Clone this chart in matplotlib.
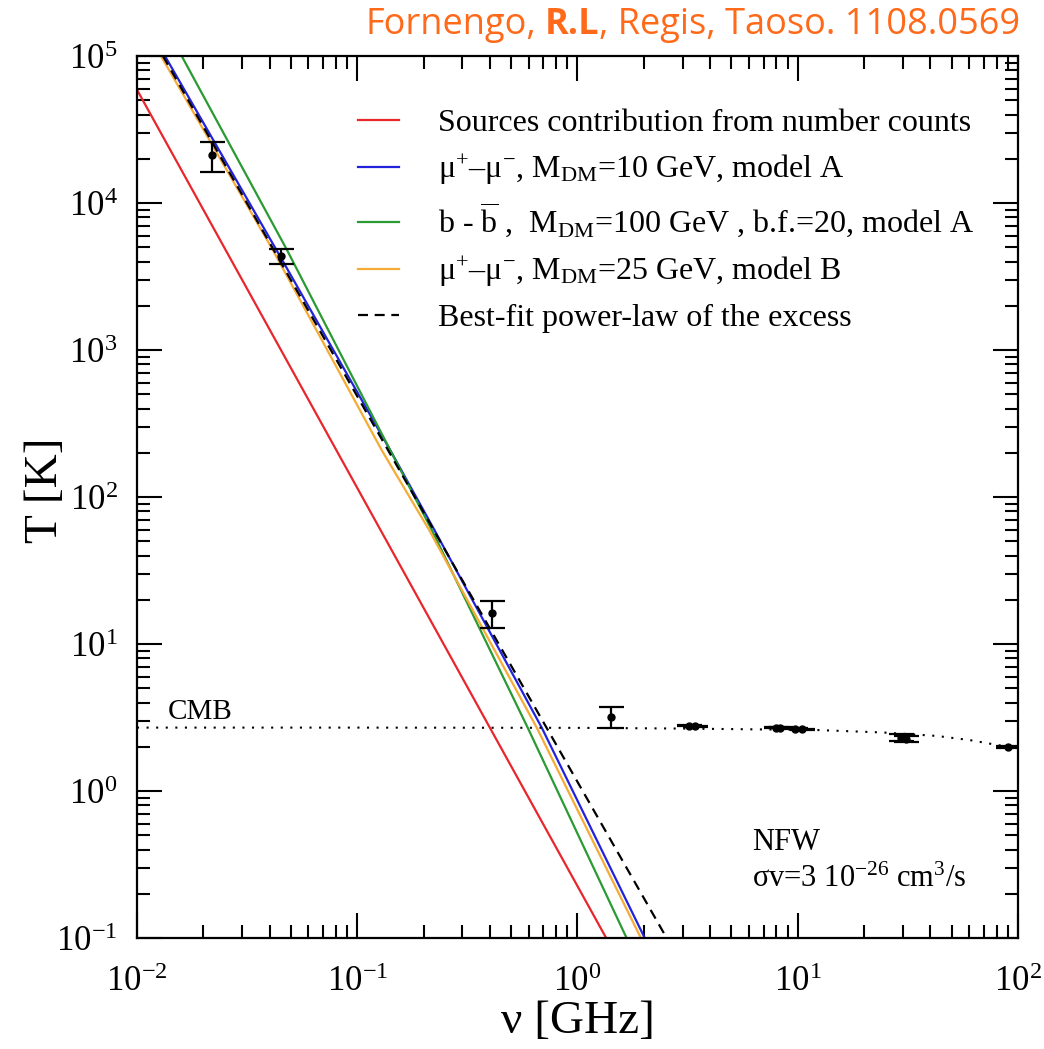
import numpy as np
import matplotlib
matplotlib.use("Agg")
import matplotlib.pyplot as plt
from matplotlib.ticker import LogLocator, LogFormatterMathtext, NullFormatter

plt.rcParams["font.family"] = ["Liberation Serif", "DejaVu Serif"]
plt.rcParams["mathtext.fontset"] = "custom"
plt.rcParams["mathtext.rm"] = "Liberation Serif"
plt.rcParams["mathtext.it"] = "Liberation Serif:italic"
plt.rcParams["mathtext.bf"] = "Liberation Serif:bold"

# ---- model curves: frequency [GHz] and brightness temperature [K] ----
src_nu = [0.01, 1.35]
src_T = [5.9e4, 0.1]

mumu10_nu = [0.0134, 0.0446, 0.141, 0.224, 0.688, 2.02]
mumu10_T = [1e5, 4350, 209, 59.7, 2.70, 0.1]

bb100_nu = [0.01596, 0.0480, 0.141, 0.218, 0.594, 1.671]
bb100_T = [1e5, 4786, 209, 59.7, 2.70, 0.1]

mumu25_nu = [0.01285, 0.0414, 0.129, 0.212, 0.653, 1.94]
mumu25_T = [1e5, 4786, 209, 59.7, 2.70, 0.1]

fit_nu = [0.01312, 2.54]
fit_T = [1e5, 0.1]

cmb_nu = [0.01, 0.1, 1.0, 3.0, 12.2, 24.5, 42.7, 60.5, 80.0, 100.0]
cmb_T = [2.70, 2.70, 2.69, 2.66, 2.60, 2.50, 2.37, 2.22, 2.06, 1.95]

# ---- measurements ----
obs_nu = [0.022, 0.045, 0.408, 1.42, 3.20, 3.41, 7.97, 8.33, 9.72, 10.49, 29.5, 31.0, 90.0]
obs_T = [21200, 4350, 16.2, 3.2, 2.78, 2.76, 2.70, 2.69, 2.65, 2.64, 2.31, 2.27, 1.99]
obs_err = [5000, 500, 3.4, 0.53, 0.03, 0.03, 0.02, 0.02, 0.02, 0.02, 0.12, 0.10, 0.02]

legend_labels = [
    "Sources contribution from number counts",
    "μ$^{+}$–μ$^{-}$, M$_{\\rm DM}$=10 GeV, model A",
    "b - $\\overline{\\rm b}$ ,  M$_{\\rm DM}$=100 GeV , b.f.=20, model A",
    "μ$^{+}$–μ$^{-}$, M$_{\\rm DM}$=25 GeV, model B",
    "Best-fit power-law of the excess",
]

fig = plt.figure(figsize=(10.44, 10.49), dpi=100)
ax = fig.add_axes([0.1312, 0.1058, 0.8439, 0.8408])

lw = 1.6
ax.plot(src_nu, src_T, color="#e8262b", lw=lw, label=legend_labels[0])
ax.plot(mumu10_nu, mumu10_T, color="#2222dd", lw=lw, label=legend_labels[1])
ax.plot(bb100_nu, bb100_T, color="#2a9a32", lw=lw, label=legend_labels[2])
ax.plot(mumu25_nu, mumu25_T, color="#f5ab35", lw=lw, label=legend_labels[3])
ax.plot(fit_nu, fit_T, color="black", lw=lw, ls=(0, (4.5, 3)), label=legend_labels[4])

ax.plot(cmb_nu, cmb_T, color="black", lw=1.5, ls=(0, (1, 3.6)))

ax.errorbar(obs_nu, obs_T, yerr=obs_err, fmt="o", color="black", ms=5,
            elinewidth=1.6, capsize=9, capthick=1.6, zorder=5)

ax.set_xscale("log")
ax.set_yscale("log")
ax.set_xlim(1e-2, 1e2)
ax.set_ylim(1e-1, 1e5)

for axis in (ax.xaxis, ax.yaxis):
    axis.set_major_locator(LogLocator(base=10, numticks=20))
    axis.set_minor_locator(LogLocator(base=10, subs=np.arange(2, 10), numticks=20))
    axis.set_major_formatter(LogFormatterMathtext())
    axis.set_minor_formatter(NullFormatter())

ax.tick_params(which="both", direction="in", top=True, right=True, width=1.5)
ax.tick_params(which="major", length=18, labelsize=25)
ax.tick_params(which="minor", length=9.5)
ax.tick_params(axis="x", which="major", pad=20)
ax.tick_params(axis="y", which="major", pad=14)
for s in ax.spines.values():
    s.set_linewidth(1.6)

ax.set_xlabel("ν [GHz]", fontsize=34)
ax.set_ylabel("T [K]", fontsize=34)
ax.xaxis.set_label_coords(0.5, -0.095)
ax.xaxis.label.set_va("center")
ax.yaxis.set_label_coords(-0.104, 0.508)
ax.yaxis.label.set_va("center")

leg = ax.legend(loc="upper right", bbox_to_anchor=(0.968, 0.958), frameon=False,
                fontsize=23, handlelength=1.3, handletextpad=1.2,
                labelspacing=0.45, borderpad=0)

ax.text(0.0138, 3.44, "CMB", fontsize=21, ha="left", va="center")
ax.text(0.698, 0.108, "NFW", fontsize=22, ha="left", va="center", transform=ax.transAxes)
ax.text(0.698, 0.066, "σv=3 10$^{-26}$ cm$^{3}$/s", fontsize=22, ha="left",
        va="center", transform=ax.transAxes)

# credit line in the top right corner, with the middle name in bold
credit_color = "#ff6a1a"
fs_credit = 26
fig.canvas.draw()
r = fig.canvas.get_renderer()
ypos = 1 - 25 / 1049
t3 = fig.text(1020 / 1044, ypos, ", Regis, Taoso. 1108.0569", color=credit_color,
              fontsize=fs_credit, family="Open Sans", ha="right", va="center")
x3 = t3.get_window_extent(r).x0
t2 = fig.text(x3 / 1044, ypos, "R.L", color=credit_color, fontsize=fs_credit,
              family="Open Sans", weight="bold", ha="right", va="center")
x2 = t2.get_window_extent(r).x0
fig.text((x2 - 8) / 1044, ypos, "Fornengo,", color=credit_color, fontsize=fs_credit,
         family="Open Sans", ha="right", va="center")

fig.savefig("out.png", dpi=100)
